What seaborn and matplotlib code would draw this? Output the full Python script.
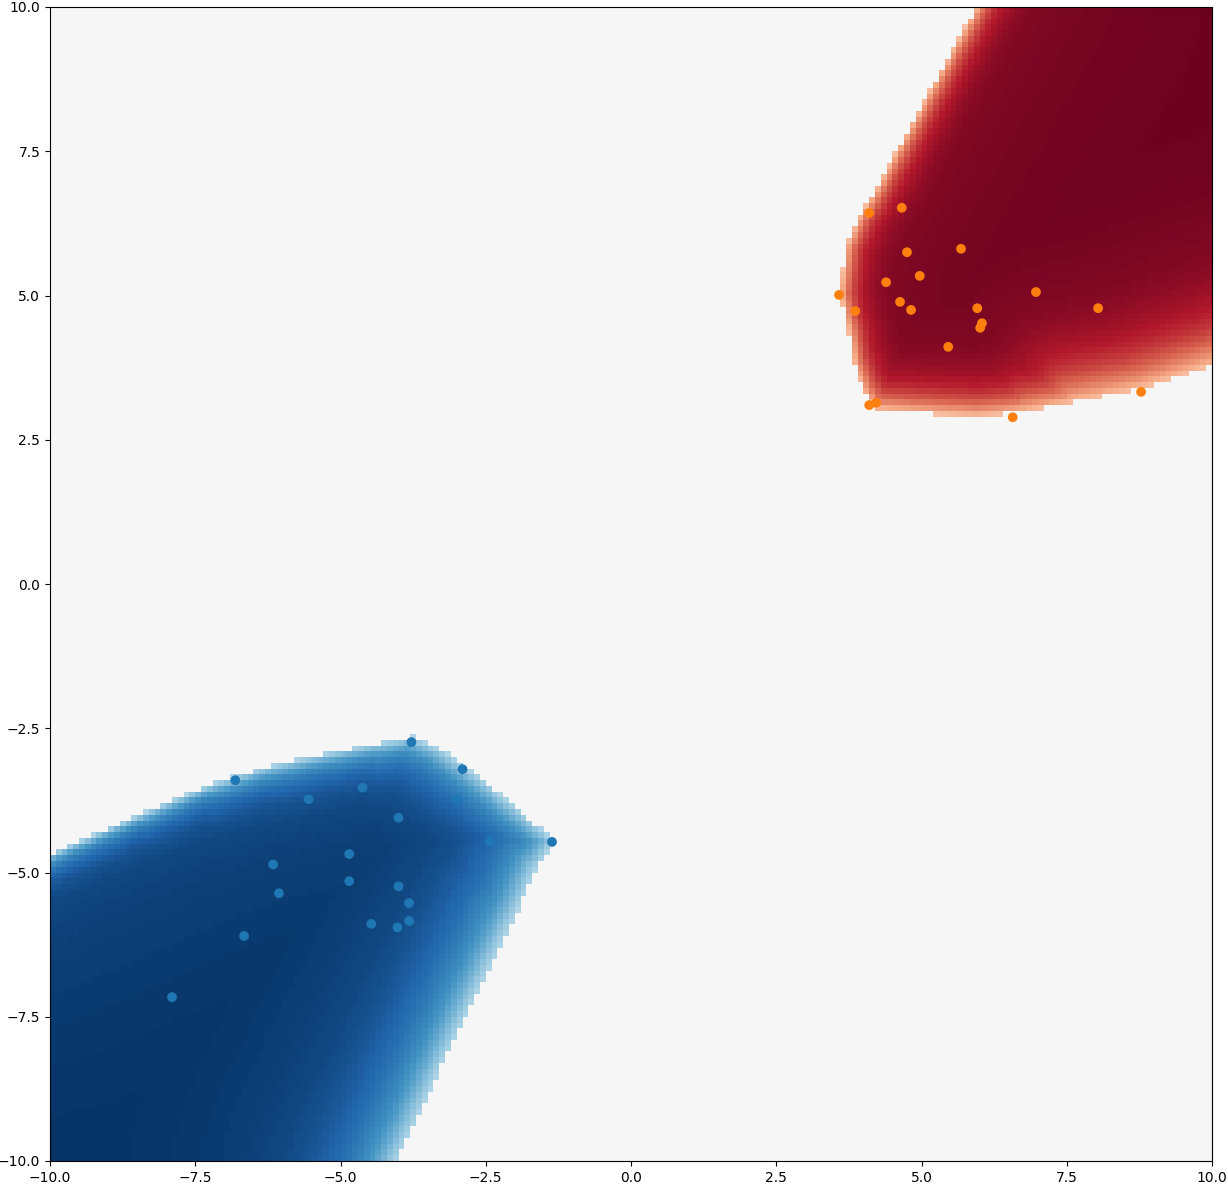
import numpy as np
import pandas as pd
import matplotlib
matplotlib.use("Agg")
import matplotlib.pyplot as plt
import seaborn as sns
from matplotlib.path import Path

# ---- scatter data ----
blue_x = [-3.78, -2.90, -6.81, -4.62, -5.55, -2.98, -4.00, -2.43, -1.36, -4.85,
          -6.16, -4.85, -4.00, -6.06, -3.82, -3.82, -4.47, -4.02, -6.66, -7.90]
blue_y = [-2.74, -3.21, -3.40, -3.53, -3.73, -3.73, -4.05, -4.46, -4.47, -4.68,
          -4.86, -5.15, -5.24, -5.36, -5.53, -5.84, -5.89, -5.95, -6.10, -7.16]
orange_x = [4.10, 4.66, 4.75, 5.68, 4.39, 4.97, 3.58, 4.63, 3.86, 4.82,
            5.96, 6.04, 6.01, 6.97, 8.04, 5.46, 4.10, 4.22, 6.57, 8.78]
orange_y = [6.43, 6.52, 5.75, 5.81, 5.23, 5.34, 5.01, 4.89, 4.73, 4.75,
            4.78, 4.52, 4.44, 5.06, 4.78, 4.11, 3.10, 3.14, 2.89, 3.33]

# ---- confident-region outlines (inside on the left), with softness per segment ----
red_bx = [6.17, 5.97, 5.06, 4.12, 3.96, 3.70, 3.60, 3.68, 3.74, 3.84, 4.02, 4.20,
          5.00, 6.00, 6.80, 7.60, 8.80, 10.00, 10.40]
red_by = [10.40, 10.05, 8.40, 6.67, 6.44, 5.86, 5.05, 4.60, 4.40, 3.78, 3.30, 3.02,
          2.96, 2.91, 2.99, 3.14, 3.39, 3.79, 3.93]
red_soft = [0.25, 0.25, 0.25, 0.25, 0.25, 0.25, 0.25, 0.25, 0.25, 0.28, 0.32,
            0.375, 0.375, 0.375, 0.45, 0.62, 0.64, 0.64]
red_close_x = [12.0, 12.0, 6.17]
red_close_y = [4.6, 12.0, 12.0]

blue_bx = [-4.14, -4.03, -2.88, -2.02, -1.64, -1.30, -1.50, -1.98, -2.57, -3.27,
           -3.77, -4.35, -5.34, -6.27, -7.26, -8.43, -10.00, -10.40]
blue_by = [-10.30, -10.00, -7.56, -5.82, -4.96, -4.45, -4.28, -3.87, -3.37, -2.86,
           -2.64, -2.75, -2.95, -3.16, -3.48, -3.98, -4.68, -4.86]
blue_soft = [0.70, 0.70, 0.70, 0.65, 0.55, 0.45, 0.45, 0.45, 0.45, 0.42,
             0.35, 0.30, 0.30, 0.28, 0.24, 0.22, 0.22]
blue_close_x = [-12.0, -12.0, -4.3]
blue_close_y = [-4.9, -12.0, -12.0]

# ---- grid ----
x_edges = np.linspace(-10, 10, 201)
y_edges = np.linspace(-10, 10, 201)
xc = 0.5 * (x_edges[:-1] + x_edges[1:])
yc = 0.5 * (y_edges[:-1] + y_edges[1:])
XC, YC = np.meshgrid(xc, yc)
pts = np.column_stack([XC.ravel(), YC.ravel()])


def region_field(bx, by, soft, cx, cy, tail):
    bx = np.asarray(bx); by = np.asarray(by)
    val = np.full(len(pts), np.inf)
    for i in range(len(bx) - 1):
        a = np.array([bx[i], by[i]]); b = np.array([bx[i + 1], by[i + 1]])
        ab = b - a
        t = np.clip(((pts - a) @ ab) / (ab @ ab), 0, 1)
        proj = a + t[:, None] * ab
        d = np.hypot(*(pts - proj).T)
        v = 1 - (0.7 - tail) * np.exp(-d / soft[i]) - tail * np.exp(-d / 3.0)
        val = np.minimum(val, v)
    poly = Path(np.column_stack([np.r_[bx, cx], np.r_[by, cy]]))
    inside = poly.contains_points(pts)
    return np.where(inside, val, 0.0).reshape(XC.shape)


Z = region_field(red_bx, red_by, red_soft, red_close_x, red_close_y, 0.08) \
    - region_field(blue_bx, blue_by, blue_soft, blue_close_x, blue_close_y, 0.10)

df = pd.DataFrame({
    "x": blue_x + orange_x,
    "y": blue_y + orange_y,
    "cls": ["0"] * len(blue_x) + ["1"] * len(orange_x),
})

fig = plt.figure(figsize=(12.28, 11.91), dpi=100)
ax = fig.add_axes([50 / 1228, 30 / 1191, 1162 / 1228, 1154 / 1191])
ax.pcolormesh(x_edges, y_edges, Z, cmap="RdBu_r", vmin=-1, vmax=1, shading="flat")
sns.scatterplot(data=df, x="x", y="y", hue="cls",
                palette={"0": "tab:blue", "1": "tab:orange"},
                s=36, edgecolor="face", linewidth=1, legend=False, ax=ax, zorder=3)
ax.set_xlim(-10, 10)
ax.set_ylim(-10, 10)
ax.set_xlabel("")
ax.set_ylabel("")
fig.savefig("out.png", dpi=100)
